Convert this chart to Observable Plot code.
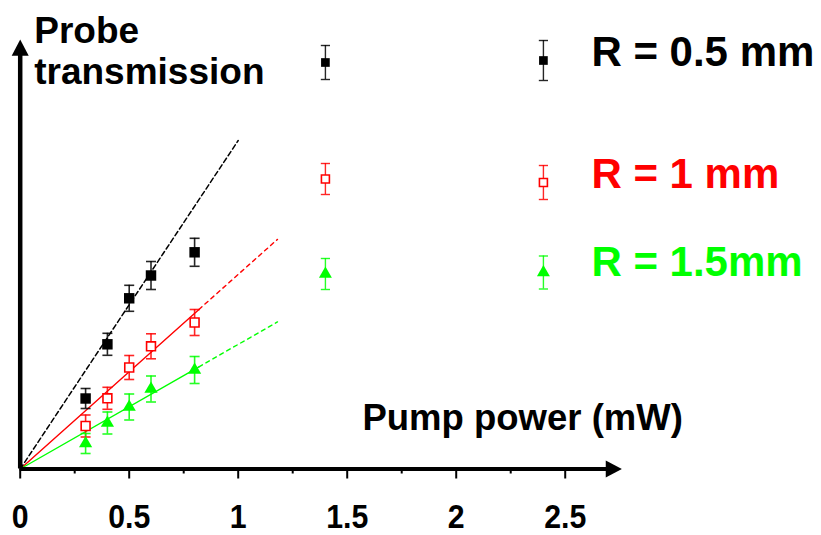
<!DOCTYPE html>
<html><head><meta charset="utf-8">
<script src="https://cdn.jsdelivr.net/npm/d3@7"></script>
<script src="https://cdn.jsdelivr.net/npm/@observablehq/plot@0.6"></script>
<style>html,body{margin:0;padding:0;background:#fff} svg{display:block}</style>
</head><body><div id="chart"></div>
<script>
// ---- data ----
const pumpPower = [0.3, 0.4, 0.5, 0.6, 0.8];
const seriesNames = ["R = 0.5 mm", "R = 1 mm", "R = 1.5mm"];
const seriesColors = ["#000000", "#ff0000", "#00ff00"];
const trans05 = [0.705, 1.247, 1.707, 1.935, 2.167];
const err05   = [0.10, 0.11, 0.13, 0.14, 0.14];
const trans10 = [0.43, 0.707, 1.015, 1.227, 1.465];
const err10   = [0.11, 0.11, 0.12, 0.125, 0.13];
const trans15 = [0.255, 0.46, 0.62, 0.80, 0.99];
const err15   = [0.10, 0.11, 0.13, 0.13, 0.135];
const legendPower = [1.4, 2.4];
const legendTrans05 = [4.065, 4.085];
const legendErr05   = [0.17, 0.20];
const legendTrans10 = [2.90, 2.865];
const legendErr10   = [0.155, 0.17];
const legendTrans15 = [1.95, 1.965];
const legendErr15   = [0.155, 0.165];
const fitSlope    = [3.285, 1.946, 1.246];
const fitSolidEnd = [0, 0.82, 0.82];
const fitEnd      = [1.0, 1.18, 1.18];
const xTicks = [0, 0.5, 1, 1.5, 2, 2.5];
const xMinorTicks = [0.25, 0.75, 1.25, 1.75, 2.25];
const yTitle = "Probe\ntransmission";
const xTitle = "Pump power (mW)";

// ---- build tables ----
const transAll = [trans05, trans10, trans15];
const errAll = [err05, err10, err15];
const legTransAll = [legendTrans05, legendTrans10, legendTrans15];
const legErrAll = [legendErr05, legendErr10, legendErr15];
const points = [], legendPts = [], solid = [], dashed = [];
seriesNames.forEach((name, s) => {
  pumpPower.forEach((x, i) => points.push({s, name, x, y: transAll[s][i], e: errAll[s][i]}));
  legendPower.forEach((x, i) => legendPts.push({s, name, x, y: legTransAll[s][i], e: legErrAll[s][i]}));
  const k = fitSlope[s], a = fitSolidEnd[s], b = fitEnd[s];
  if (a > 0) { solid.push({s, x: 0, y: 0}); solid.push({s, x: a, y: k * a}); }
  dashed.push({s, x: a, y: k * a}); dashed.push({s, x: b, y: k * b});
});
const color = (d) => seriesColors[d.s];

// ---- symbols ----
const capSymbol = {draw(ctx, size) { const w = Math.sqrt(size / Math.PI); ctx.moveTo(-w, 0); ctx.lineTo(w, 0); }};
const arrowSymbol = {draw(ctx, size) { const r = Math.sqrt(size / Math.PI); ctx.moveTo(0, 0); ctx.lineTo(-1.9 * r, -r); ctx.lineTo(-1.9 * r, r); ctx.closePath(); }};
const markerSymbols = ["square", "square", "triangle"];

const X_END = 2.76, Y_END = 4.295;

function errorMarks(data, capR, sw, op) {
  return [
    Plot.ruleX(data, {x: "x", y1: d => d.y - d.e, y2: d => d.y + d.e, stroke: color, strokeWidth: sw, strokeOpacity: op}),
    Plot.dot(data, {x: "x", y: d => d.y - d.e, symbol: capSymbol, r: capR, stroke: color, strokeWidth: sw, strokeOpacity: op}),
    Plot.dot(data, {x: "x", y: d => d.y + d.e, symbol: capSymbol, r: capR, stroke: color, strokeWidth: sw, strokeOpacity: op})
  ];
}
function markerMarks(data, sizes) {
  return [0, 1, 2].map(s => Plot.dot(data.filter(d => d.s === s), {
    x: "x", y: "y", symbol: markerSymbols[s], r: sizes[s],
    fill: s === 1 ? "#ffffff" : seriesColors[s],
    stroke: s === 1 ? seriesColors[s] : "none", strokeWidth: 1.6
  }));
}

const chart = Plot.plot({
  width: 821, height: 535,
  marginLeft: 19.7, marginRight: 199.6, marginTop: 0, marginBottom: 66.5,
  x: {domain: [0, X_END]},
  y: {domain: [0, 4.685], axis: null},
  style: {fontFamily: "'Liberation Sans', Arial, sans-serif", background: "#fff", overflow: "visible"},
  marks: [
    // fit lines
    Plot.line(solid, {x: "x", y: "y", z: "s", stroke: color, strokeWidth: 1.4}),
    Plot.line(dashed.filter(d => d.s === 0), {x: "x", y: "y", stroke: seriesColors[0], strokeWidth: 1.5, strokeDasharray: "5,3"}),
    Plot.line(dashed.filter(d => d.s !== 0), {x: "x", y: "y", z: "s", stroke: color, strokeWidth: 1.4, strokeDasharray: "4,4"}),
    // error bars + markers
    ...errorMarks(points, 5, 1.6, 0.85),
    ...markerMarks(points, [5.9, 5.0, 4.9]),
    ...errorMarks(legendPts, 4.6, 1.4, 0.85),
    ...markerMarks(legendPts, [4.9, 4.5, 4.8]),
    // axes
    Plot.axisX(xMinorTicks, {tickSize: 5, tickFormat: () => "", label: null, strokeWidth: 2}),
    Plot.axisX(xTicks, {tickSize: 10, tickPadding: 24.5, label: null, strokeWidth: 2, fontSize: 34, fontWeight: "bold", fill: "#000", tickFormat: d => String(d)}),
    Plot.ruleY([0], {x1: 0, x2: X_END - 0.03, stroke: "#000", strokeWidth: 4}),
    Plot.ruleX([0], {y1: 0, y2: Y_END - 0.08, stroke: "#000", strokeWidth: 4.5}),
    Plot.dot([{x: X_END, y: 0}], {x: "x", y: "y", symbol: arrowSymbol, r: 8.5, fill: "#000"}),
    Plot.dot([{x: 0, y: Y_END}], {x: "x", y: "y", symbol: arrowSymbol, r: 8.5, fill: "#000", rotate: -90}),
    // titles
    Plot.text([yTitle], {frameAnchor: "top-left", dx: 14, dy: 13, textAnchor: "start", lineAnchor: "top", fontSize: 37, fontWeight: "bold", lineHeight: 1.12, fill: "#000"}),
    Plot.text([xTitle], {x: () => 1.57, y: () => 0.395, textAnchor: "start", lineAnchor: "bottom", fontSize: 36.5, fontWeight: "bold", fill: "#000"}),
    Plot.text(seriesNames.map((name, s) => ({name, s, y: [4.035, 2.808, 1.935][s]})), {x: () => 2.62, y: "y", text: "name", fill: color, textAnchor: "start", lineAnchor: "bottom", fontSize: 42, fontWeight: "bold"})
  ]
});
document.getElementById("chart").appendChild(chart);
// slightly condensed tick labels, as in the reference
chart.querySelectorAll('g[aria-label="x-axis tick label"] text').forEach(t => {
  const bb = t.getBBox();
  const cx = bb.x + bb.width / 2;
  t.setAttribute("transform", (t.getAttribute("transform") || "") + ` translate(${cx},0) scale(0.89,1) translate(${-cx},0)`);
});
</script></body></html>
